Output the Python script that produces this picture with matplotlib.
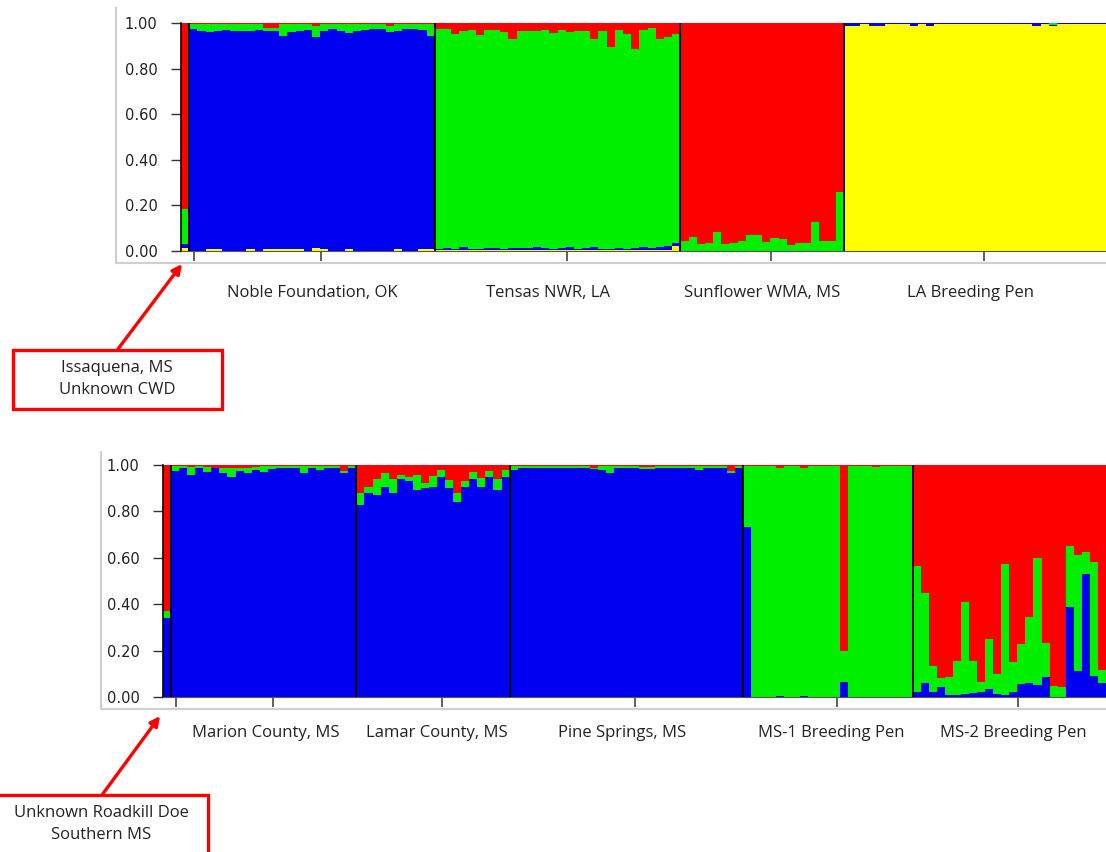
import numpy as np
import matplotlib
matplotlib.use('Agg')
import matplotlib.pyplot as plt
from matplotlib.patches import Rectangle
from matplotlib.lines import Line2D

W, H = 1106, 852

# ---- top panel, K=4 (stacked bottom->top: yellow, blue, green, red)
top_names = ['', 'Noble Foundation, OK', 'Tensas NWR, LA', 'Sunflower WMA, MS', 'LA Breeding Pen']

issa_yellow = [0.015]
issa_blue = [0.015]
issa_green = [0.155]
issa_red = [0.815]

noble_yellow = [0.002, 0.002, 0.008, 0.008, 0.002, 0.002, 0.002, 0.008, 0.002, 0.008,
                0.008, 0.008, 0.008, 0.008, 0.002, 0.012, 0.008, 0.002, 0.002, 0.008,
                0.002, 0.002, 0.002, 0.002, 0.002, 0.008, 0.002, 0.002, 0.008, 0.008]
noble_blue = [0.973, 0.963, 0.952, 0.957, 0.968, 0.963, 0.963, 0.957, 0.968, 0.957,
              0.957, 0.937, 0.952, 0.957, 0.968, 0.928, 0.957, 0.973, 0.963, 0.947,
              0.963, 0.968, 0.973, 0.973, 0.958, 0.957, 0.973, 0.973, 0.962, 0.937]
noble_green = [0.019, 0.029, 0.034, 0.029, 0.024, 0.029, 0.029, 0.029, 0.024, 0.013,
               0.013, 0.049, 0.034, 0.029, 0.024, 0.045, 0.029, 0.019, 0.029, 0.039,
               0.029, 0.024, 0.019, 0.019, 0.025, 0.029, 0.019, 0.019, 0.024, 0.049]
noble_red = [0.006, 0.006, 0.006, 0.006, 0.006, 0.006, 0.006, 0.006, 0.006, 0.022,
             0.022, 0.006, 0.006, 0.006, 0.006, 0.015, 0.006, 0.006, 0.006, 0.006,
             0.006, 0.006, 0.006, 0.006, 0.015, 0.006, 0.006, 0.006, 0.006, 0.006]

tensas_yellow = [0.005] * 29 + [0.022]
tensas_blue = [0.004, 0.010, 0.004, 0.012, 0.004, 0.004, 0.008, 0.006, 0.004, 0.010,
               0.006, 0.010, 0.012, 0.008, 0.004, 0.006, 0.012, 0.004, 0.010, 0.012,
               0.004, 0.004, 0.008, 0.004, 0.010, 0.014, 0.010, 0.012, 0.016, 0.014]
tensas_green = [0.966, 0.960, 0.943, 0.946, 0.961, 0.937, 0.957, 0.959, 0.951, 0.915,
                0.955, 0.951, 0.949, 0.957, 0.947, 0.959, 0.943, 0.957, 0.951, 0.913,
                0.957, 0.884, 0.957, 0.943, 0.873, 0.951, 0.963, 0.913, 0.916, 0.916]
tensas_red = [0.025, 0.025, 0.048, 0.037, 0.030, 0.054, 0.030, 0.030, 0.040, 0.070,
              0.034, 0.034, 0.034, 0.030, 0.044, 0.030, 0.040, 0.034, 0.034, 0.070,
              0.034, 0.107, 0.030, 0.048, 0.112, 0.030, 0.022, 0.070, 0.063, 0.048]

sun_yellow = [0.0] * 20
sun_blue = [0.0] * 20
sun_green = [0.044, 0.063, 0.030, 0.036, 0.083, 0.030, 0.036, 0.044, 0.072, 0.072,
             0.040, 0.057, 0.051, 0.028, 0.036, 0.036, 0.127, 0.044, 0.044, 0.258]
sun_red = [0.956, 0.937, 0.970, 0.964, 0.917, 0.970, 0.964, 0.956, 0.928, 0.928,
           0.960, 0.943, 0.949, 0.972, 0.964, 0.964, 0.873, 0.956, 0.956, 0.742]

la_yellow = [0.988, 0.988, 0.997, 0.988, 0.988, 0.997, 0.997, 0.997, 0.988, 0.997,
             0.988, 0.997, 0.997, 0.997, 0.997, 0.997, 0.997, 0.997, 0.997, 0.997,
             0.997, 0.997, 0.997, 0.988, 0.997, 0.989, 0.997, 0.997, 0.997, 0.997,
             0.997, 0.997]
la_blue = [0.012, 0.012, 0.003, 0.012, 0.012, 0.003, 0.003, 0.003, 0.012, 0.003,
           0.012, 0.003, 0.003, 0.003, 0.003, 0.003, 0.003, 0.003, 0.003, 0.003,
           0.003, 0.003, 0.003, 0.012, 0.003, 0.003, 0.003, 0.003, 0.003, 0.003,
           0.003, 0.003]
la_green = [0.0] * 25 + [0.008] + [0.0] * 6
la_red = [0.0] * 32

# ---- bottom panel, K=3 (stacked bottom->top: blue, green, red)
bot_names = ['', 'Marion County, MS', 'Lamar County, MS', 'Pine Springs, MS',
             'MS-1 Breeding Pen', 'MS-2 Breeding Pen']

doe_blue = [0.34]
doe_green = [0.03]
doe_red = [0.63]

marion_blue = [0.976, 0.985, 0.957, 0.985, 0.971, 0.985, 0.967, 0.950, 0.975, 0.964,
               0.978, 0.971, 0.982, 0.988, 0.988, 0.988, 0.964, 0.985, 0.980, 0.985,
               0.985, 0.964, 0.988]
marion_green = [0.019, 0.010, 0.035, 0.010, 0.019, 0.003, 0.018, 0.035, 0.010, 0.024,
                0.012, 0.024, 0.013, 0.007, 0.007, 0.007, 0.031, 0.010, 0.015, 0.010,
                0.010, 0.011, 0.007]
marion_red = [0.005, 0.005, 0.008, 0.005, 0.010, 0.012, 0.015, 0.015, 0.015, 0.012,
              0.010, 0.005, 0.005, 0.005, 0.005, 0.005, 0.005, 0.005, 0.005, 0.005,
              0.005, 0.025, 0.005]

lamar_blue = [0.828, 0.878, 0.871, 0.907, 0.878, 0.938, 0.932, 0.892, 0.900, 0.907,
              0.950, 0.900, 0.842, 0.907, 0.938, 0.907, 0.950, 0.892, 0.950]
lamar_green = [0.050, 0.029, 0.067, 0.057, 0.060, 0.019, 0.018, 0.065, 0.021, 0.046,
               0.028, 0.035, 0.036, 0.025, 0.032, 0.035, 0.026, 0.046, 0.028]
lamar_red = [0.122, 0.093, 0.062, 0.036, 0.062, 0.043, 0.050, 0.043, 0.079, 0.047,
             0.022, 0.065, 0.122, 0.068, 0.030, 0.058, 0.024, 0.062, 0.022]

pine_blue = [0.980, 0.988, 0.988, 0.988, 0.985, 0.988, 0.988, 0.988, 0.988, 0.988,
             0.982, 0.978, 0.964, 0.988, 0.988, 0.988, 0.984, 0.984, 0.988, 0.988,
             0.988, 0.988, 0.988, 0.978, 0.988, 0.988, 0.988, 0.964, 0.988]
pine_green = [0.014, 0.006, 0.006, 0.006, 0.009, 0.006, 0.006, 0.006, 0.006, 0.006,
              0.006, 0.016, 0.030, 0.006, 0.006, 0.006, 0.006, 0.006, 0.006, 0.006,
              0.006, 0.006, 0.006, 0.016, 0.006, 0.006, 0.006, 0.011, 0.006]
pine_red = [0.006, 0.006, 0.006, 0.006, 0.006, 0.006, 0.006, 0.006, 0.006, 0.006,
            0.012, 0.006, 0.006, 0.006, 0.006, 0.006, 0.010, 0.010, 0.006, 0.006,
            0.006, 0.006, 0.006, 0.006, 0.006, 0.006, 0.006, 0.025, 0.006]

ms1_blue = [0.733, 0.002, 0.002, 0.002, 0.006, 0.002, 0.002, 0.006, 0.002, 0.002,
            0.002, 0.002, 0.063, 0.002, 0.002, 0.002, 0.002, 0.002, 0.002, 0.002, 0.002]
ms1_green = [0.262, 0.993, 0.993, 0.993, 0.982, 0.993, 0.993, 0.982, 0.993, 0.993,
             0.993, 0.993, 0.137, 0.993, 0.993, 0.993, 0.988, 0.993, 0.993, 0.993, 0.993]
ms1_red = [0.005, 0.005, 0.005, 0.005, 0.012, 0.005, 0.005, 0.012, 0.005, 0.005,
           0.005, 0.005, 0.800, 0.005, 0.005, 0.005, 0.010, 0.005, 0.005, 0.005, 0.005]

ms2_blue = [0.023, 0.062, 0.023, 0.042, 0.010, 0.010, 0.012, 0.016, 0.023, 0.033,
            0.013, 0.010, 0.023, 0.056, 0.062, 0.050, 0.085, 0.002, 0.002, 0.390,
            0.110, 0.530, 0.090, 0.059]
ms2_green = [0.543, 0.388, 0.111, 0.041, 0.078, 0.145, 0.398, 0.139, 0.042, 0.217,
             0.087, 0.565, 0.127, 0.172, 0.281, 0.550, 0.149, 0.045, 0.040, 0.262,
             0.500, 0.095, 0.490, 0.057]
ms2_red = [0.434, 0.550, 0.866, 0.917, 0.912, 0.845, 0.590, 0.845, 0.935, 0.750,
           0.900, 0.425, 0.850, 0.772, 0.657, 0.400, 0.766, 0.953, 0.958, 0.348,
           0.390, 0.375, 0.420, 0.884]

RED, GREEN, BLUE, YELLOW = '#ff0000', '#00f000', '#0000f0', '#ffff00'
TXT = '#222222'
LABEL_FONT = ['Open Sans', 'DejaVu Sans']


def px_rect(l, t, r, b):
    return [l / W, 1 - b / H, (r - l) / W, (b - t) / H]


def structure_panel(ax, groups, colors, names, label_y, label_shift):
    # groups: list of per-population lists of cluster arrays
    sizes = [len(g[0]) for g in groups]
    q = [np.concatenate([np.asarray(g[k], float) for g in groups]) for k in range(len(colors))]
    n = sum(sizes)
    x = np.arange(n)
    bottom = np.zeros(n)
    for vals, c in zip(q, colors):
        ax.bar(x, vals, width=1.0, bottom=bottom, align='edge', color=c,
               linewidth=0, antialiased=False)
        bottom += vals
    edges = np.cumsum(sizes)
    for e in edges[:-1]:
        ax.axvline(e, color='black', lw=1.4, zorder=5)
    centers = edges - np.array(sizes) / 2
    ax.set_xlim(0, n)
    ax.set_ylim(0, 1)
    ax.set_xticks(centers + 1.1)
    ax.set_xticklabels([])
    ax.set_yticks(np.arange(0, 1.01, 0.2))
    ax.set_yticklabels(['%.2f' % v for v in np.arange(0, 1.01, 0.2)])
    ax.tick_params(axis='y', direction='out', length=7, width=1, colors='#333333',
                   pad=10, labelsize=10.5, labelcolor=TXT)
    ax.tick_params(axis='x', direction='out', length=7, width=1.2, colors='#444444')
    for s in ['top', 'right']:
        ax.spines[s].set_visible(False)
    ax.spines['left'].set_color('black')
    ax.spines['left'].set_linewidth(1.2)
    ax.spines['bottom'].set_color('#555555')
    for c, name, dx in zip(centers, names, label_shift):
        if name:
            ax.text(c + dx, label_y, name, transform=ax.get_xaxis_transform(), ha='center',
                    va='center', fontsize=12, family=LABEL_FONT, color=TXT)


fig = plt.figure(figsize=(W / 100, H / 100), dpi=100)

ax_top = fig.add_axes(px_rect(181, 23, 1106, 251))
top_groups = [
    [issa_yellow, issa_blue, issa_green, issa_red],
    [noble_yellow, noble_blue, noble_green, noble_red],
    [tensas_yellow, tensas_blue, tensas_green, tensas_red],
    [sun_yellow, sun_blue, sun_green, sun_red],
    [la_yellow, la_blue, la_green, la_red],
]
structure_panel(ax_top, top_groups, [YELLOW, BLUE, GREEN, RED], top_names, -0.185,
                [0, 0, -1.2, 0, -0.5])

ax_bot = fig.add_axes(px_rect(163, 465, 1106, 697))
bot_groups = [
    [doe_blue, doe_green, doe_red],
    [marion_blue, marion_green, marion_red],
    [lamar_blue, lamar_green, lamar_red],
    [pine_blue, pine_green, pine_red],
    [ms1_blue, ms1_green, ms1_red],
    [ms2_blue, ms2_green, ms2_red],
]
structure_panel(ax_bot, bot_groups, [BLUE, GREEN, RED], bot_names, -0.155,
                [0, 0.2, 0.5, -0.5, 0.4, 0.5])


# light grey frame left over from the screenshot
def fig_line(x0, y0, x1, y1, **kw):
    fig.add_artist(Line2D([x0 / W, x1 / W], [1 - y0 / H, 1 - y1 / H],
                          transform=fig.transFigure, **kw))


fig_line(116, 8, 116, 263, color='#cfcfcf', lw=1.5)
fig_line(116, 263, 1106, 263, color='#cfcfcf', lw=1.5)
fig_line(101, 452, 101, 709, color='#cfcfcf', lw=1.5)
fig_line(101, 709, 1106, 709, color='#cfcfcf', lw=1.5)

# callout boxes
boxes = [
    ((13, 350, 222, 409), (117, 379), 'Issaquena, MS\nUnknown CWD', (118, 349), (182, 264)),
    ((-3, 795, 208, 870), (101, 824), 'Unknown Roadkill Doe\nSouthern MS', (102, 795), (160, 716)),
]
for (l, t, r, b), (tx, ty), txt, a0, a1 in boxes:
    fig.add_artist(Rectangle((l / W, 1 - b / H), (r - l) / W, (b - t) / H,
                             transform=fig.transFigure, facecolor='white',
                             edgecolor=RED, lw=2.4, zorder=3))
    fig.text(tx / W, 1 - ty / H, txt, ha='center', va='center', fontsize=12,
             family=LABEL_FONT, color=TXT, linespacing=1.45, zorder=4)
    ax_top.annotate('', xy=(a1[0], H - a1[1]), xycoords='figure pixels',
                    xytext=(a0[0], H - a0[1]), textcoords='figure pixels',
                    arrowprops=dict(arrowstyle='-|>', color=RED, lw=2.4,
                                    mutation_scale=14, shrinkA=0, shrinkB=0),
                    annotation_clip=False)

fig.savefig('out.png', dpi=100)
